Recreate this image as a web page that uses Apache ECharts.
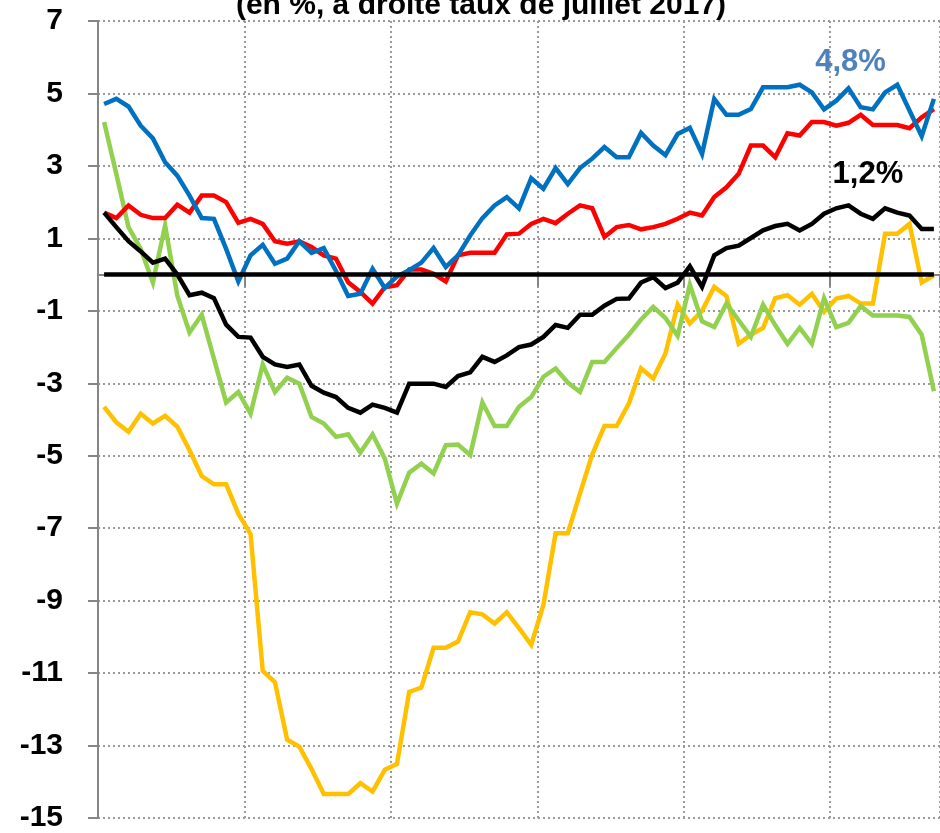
<!DOCTYPE html>
<html>
<head>
<meta charset="utf-8">
<script src="https://cdn.jsdelivr.net/npm/echarts@6/dist/echarts.min.js"></script>
<style>
  html, body { margin: 0; padding: 0; background: #fff; }
  #main { width: 940px; height: 833px; }
</style>
</head>
<body>
<div id="main"></div>
<script>
// mois : de novembre 2011 à juillet 2017
var categories = [];
for (var y = 2011, m = 11; categories.length < 69; m++) {
    if (m > 12) { m = 1; y++; }
    categories.push(y + '-' + (m < 10 ? '0' + m : m));
}

var serieBleue = [4.71, 4.85, 4.64, 4.11, 3.76, 3.10, 2.73, 2.18, 1.56, 1.54,
    0.71, -0.19, 0.53, 0.82, 0.30, 0.44, 0.92, 0.60, 0.73, 0.10,
    -0.59, -0.53, 0.16, -0.37, -0.05, 0.12, 0.33, 0.73, 0.21, 0.53,
    1.08, 1.56, 1.91, 2.14, 1.83, 2.66, 2.37, 2.94, 2.50, 2.94,
    3.20, 3.52, 3.24, 3.24, 3.91, 3.56, 3.30, 3.88, 4.05, 3.33,
    4.85, 4.41, 4.41, 4.57, 5.17, 5.17, 5.17, 5.24, 5.03, 4.56,
    4.80, 5.14, 4.62, 4.56, 5.03, 5.24, 4.53, 3.82, 4.85];

var serieRouge = [1.71, 1.56, 1.91, 1.65, 1.56, 1.56, 1.93, 1.71, 2.18, 2.18,
    2.00, 1.43, 1.54, 1.40, 0.92, 0.85, 0.92, 0.76, 0.53, 0.44,
    -0.21, -0.48, -0.80, -0.35, -0.29, 0.14, 0.14, 0.02, -0.19, 0.53,
    0.60, 0.60, 0.60, 1.11, 1.13, 1.40, 1.54, 1.42, 1.68, 1.91,
    1.83, 1.04, 1.31, 1.37, 1.25, 1.31, 1.40, 1.54, 1.71, 1.63,
    2.14, 2.41, 2.78, 3.56, 3.56, 3.24, 3.90, 3.84, 4.21, 4.21,
    4.11, 4.19, 4.41, 4.13, 4.13, 4.13, 4.04, 4.34, 4.57];

var serieNoire = [1.71, 1.31, 0.92, 0.64, 0.33, 0.44, 0.00, -0.57, -0.50, -0.65,
    -1.38, -1.72, -1.74, -2.27, -2.48, -2.55, -2.48, -3.07, -3.26, -3.38,
    -3.68, -3.81, -3.59, -3.68, -3.81, -3.01, -3.01, -3.01, -3.10, -2.80,
    -2.70, -2.27, -2.41, -2.23, -2.00, -1.93, -1.72, -1.39, -1.47, -1.11,
    -1.11, -0.86, -0.67, -0.66, -0.22, -0.07, -0.37, -0.22, 0.23, -0.34,
    0.53, 0.73, 0.80, 1.01, 1.22, 1.34, 1.40, 1.22, 1.40, 1.68,
    1.83, 1.91, 1.68, 1.54, 1.83, 1.71, 1.63, 1.26, 1.26];

var serieVerte = [4.21, 2.78, 1.31, 0.71, -0.22, 1.36, -0.58, -1.60, -1.11, -2.32,
    -3.53, -3.24, -3.84, -2.48, -3.24, -2.85, -3.01, -3.93, -4.11, -4.48,
    -4.41, -4.91, -4.41, -5.08, -6.32, -5.47, -5.22, -5.49, -4.71, -4.69,
    -4.98, -3.53, -4.18, -4.18, -3.65, -3.38, -2.82, -2.59, -2.98, -3.24,
    -2.41, -2.41, -2.03, -1.66, -1.24, -0.89, -1.20, -1.69, -0.28, -1.29,
    -1.45, -0.80, -1.26, -1.72, -0.83, -1.40, -1.91, -1.47, -1.91, -0.65,
    -1.45, -1.33, -0.87, -1.13, -1.13, -1.13, -1.17, -1.66, -3.22];

var serieOrange = [-3.65, -4.08, -4.34, -3.84, -4.11, -3.90, -4.20, -4.85, -5.56, -5.79,
    -5.79, -6.60, -7.16, -10.94, -11.25, -12.84, -13.03, -13.65, -14.34, -14.34,
    -14.34, -14.04, -14.27, -13.67, -13.51, -11.52, -11.40, -10.30, -10.30, -10.13,
    -9.32, -9.38, -9.63, -9.32, -9.76, -10.22, -9.12, -7.14, -7.14, -6.04,
    -4.97, -4.18, -4.18, -3.56, -2.59, -2.87, -2.18, -0.83, -1.35, -1.00,
    -0.34, -0.59, -1.91, -1.66, -1.47, -0.65, -0.57, -0.83, -0.53, -1.03,
    -0.66, -0.59, -0.80, -0.80, 1.13, 1.13, 1.40, -0.22, -0.02];

// ligne de référence à zéro
var ligneZero = categories.map(function () { return 0; });

var police = 'Liberation Sans, Arial, sans-serif';

var myChart = echarts.init(document.getElementById('main'));

function courbe(nom, data, couleur) {
    return {
        name: nom,
        type: 'line',
        data: data,
        symbol: 'none',
        animation: false,
        lineStyle: { color: couleur, width: 4.5, join: 'miter' },
        itemStyle: { color: couleur }
    };
}

var s1 = courbe('orange', serieOrange, '#FFC000');
var s2 = courbe('vert', serieVerte, '#92D050');
var s3 = courbe('rouge', serieRouge, '#FF0000');
var s4 = courbe('bleu', serieBleue, '#0070C0');
s4.markPoint = {
    symbol: 'circle', symbolSize: 1,
    itemStyle: { color: 'rgba(0,0,0,0)' },
    label: { show: true, position: 'inside', offset: [2, 0], formatter: '4,8%',
        color: '#4F81BD', fontSize: 31, fontWeight: 'bold', fontFamily: police },
    data: [{ coord: [categories[61], 5.85] }]
};
var s5 = courbe('noir', serieNoire, '#000000');
s5.markPoint = {
    symbol: 'circle', symbolSize: 1,
    itemStyle: { color: 'rgba(0,0,0,0)' },
    label: { show: true, position: 'inside', offset: [-5, 0], formatter: '1,2%',
        color: '#000', fontSize: 31, fontWeight: 'bold', fontFamily: police },
    data: [{ coord: [categories[63], 2.76] }]
};
var s6 = courbe('zero', ligneZero, '#000000');

var option = {
    animation: false,
    backgroundColor: '#fff',
    title: {
        text: '(en %, à droite taux de juillet 2017)',
        left: 476,
        textAlign: 'center',
        top: -14,
        textStyle: { fontSize: 30, fontWeight: 'bold', color: '#000', fontFamily: police }
    },
    grid: { left: 98, right: 0, top: 21, bottom: 12, containLabel: false },
    xAxis: {
        type: 'category',
        data: categories,
        boundaryGap: true,
        axisLine: { lineStyle: { color: '#868686', width: 2 } },
        axisTick: { show: true, interval: 11, length: 12, lineStyle: { color: '#868686', width: 2 } },
        axisLabel: { show: false, interval: 11 },
        splitLine: { show: true, interval: 11, lineStyle: { color: '#9A9A9A', width: 2, type: [2, 3] } }
    },
    yAxis: {
        type: 'value',
        min: -15,
        max: 7,
        interval: 2,
        axisLine: { show: true, lineStyle: { color: '#868686', width: 2 } },
        axisTick: { show: true, length: 10, lineStyle: { color: '#868686', width: 2 } },
        axisLabel: { margin: 35, fontSize: 30, fontWeight: 'bold', color: '#000', fontFamily: police },
        splitLine: { show: true, lineStyle: { color: '#9A9A9A', width: 2, type: [2, 3] } }
    },
    series: [s1, s2, s3, s4, s5, s6]
};

myChart.setOption(option);
</script>
</body>
</html>
